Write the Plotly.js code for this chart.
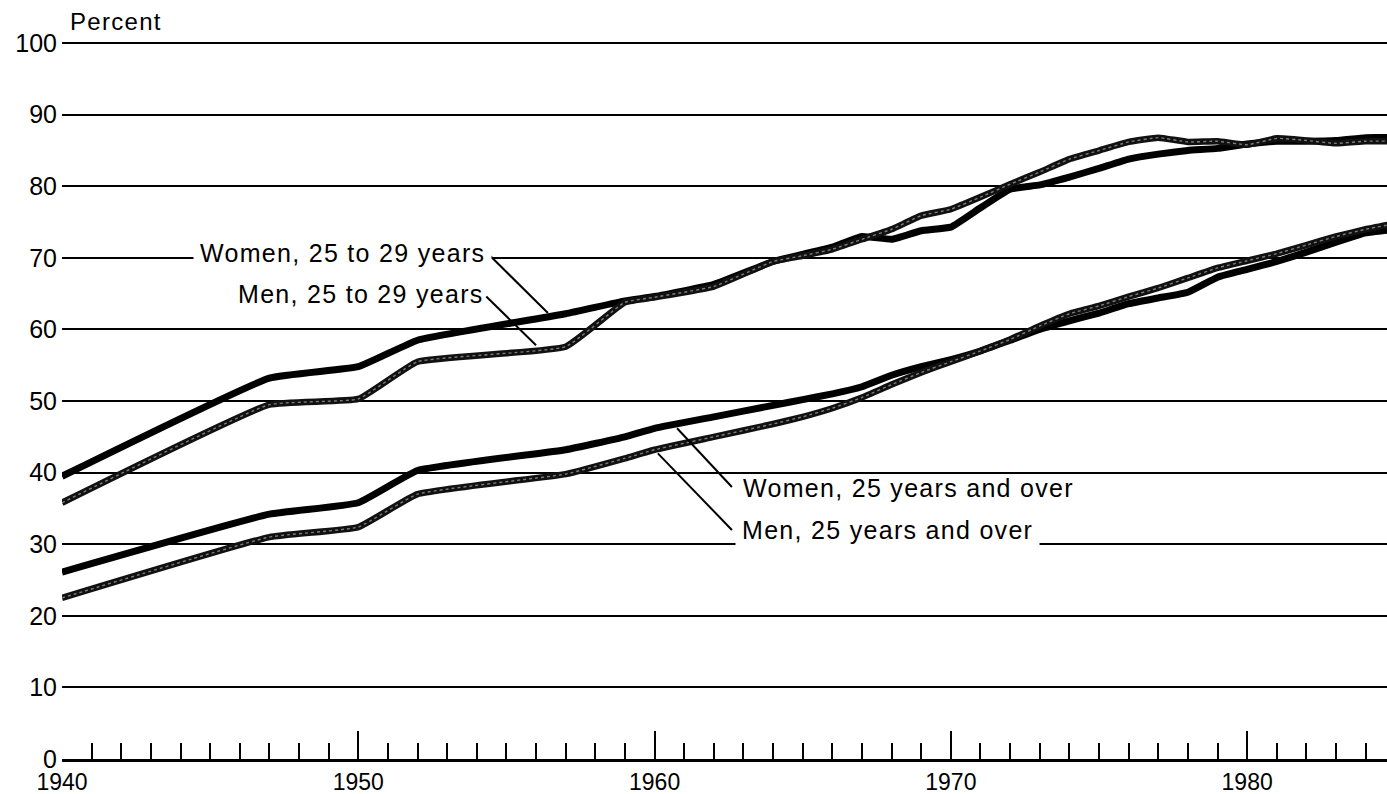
<!DOCTYPE html>
<html>
<head>
<meta charset="utf-8">
<script src="https://cdn.plot.ly/plotly-3.0.1.min.js"></script>
<style>
  body { margin: 0; background: #fff; }
  #chart { width: 1387px; height: 794px; }
  .annotation-text { letter-spacing: 1.3px; }
</style>
</head>
<body>
<div id="chart"></div>
<script>
// ---- Data (percent) ----
const womenYoungYears = [1940, 1947, 1950, 1952, 1957, 1959, 1960, 1962, 1964, 1965, 1966, 1967, 1968, 1969, 1970, 1971, 1972, 1973, 1974, 1975, 1976, 1977, 1978, 1979, 1980, 1981, 1982, 1983, 1984, 1985];
const womenYoung = [39.5, 53.2, 54.8, 58.5, 62.2, 64.0, 64.6, 66.3, 69.5, 70.5, 71.5, 73.0, 72.6, 73.8, 74.3, 77.0, 79.6, 80.2, 81.3, 82.5, 83.8, 84.5, 85.0, 85.3, 85.9, 86.3, 86.3, 86.4, 86.8, 86.8];

const menYoungYears = [1940, 1947, 1950, 1952, 1957, 1959, 1960, 1962, 1964, 1965, 1966, 1967, 1968, 1969, 1970, 1971, 1972, 1973, 1974, 1975, 1976, 1977, 1978, 1979, 1980, 1981, 1982, 1983, 1984, 1985];
const menYoung = [35.8, 49.5, 50.3, 55.5, 57.6, 63.8, 64.5, 66.0, 69.5, 70.3, 71.2, 72.6, 74.0, 75.9, 76.8, 78.5, 80.3, 82.0, 83.8, 85.0, 86.2, 86.8, 86.2, 86.3, 85.8, 86.7, 86.4, 86.0, 86.3, 86.3];

const womenAllYears = [1940, 1947, 1950, 1952, 1957, 1959, 1960, 1962, 1964, 1965, 1966, 1967, 1968, 1969, 1970, 1971, 1972, 1973, 1974, 1975, 1976, 1977, 1978, 1979, 1980, 1981, 1982, 1983, 1984, 1985];
const womenAll = [26.1, 34.2, 35.8, 40.3, 43.2, 45.0, 46.2, 47.8, 49.4, 50.2, 51.0, 52.0, 53.6, 54.8, 55.8, 57.0, 58.5, 60.0, 61.2, 62.3, 63.6, 64.4, 65.2, 67.3, 68.4, 69.5, 70.8, 72.2, 73.5, 74.0];

const menAllYears = [1940, 1947, 1950, 1952, 1957, 1959, 1960, 1962, 1964, 1965, 1966, 1967, 1968, 1969, 1970, 1971, 1972, 1973, 1974, 1975, 1976, 1977, 1978, 1979, 1980, 1981, 1982, 1983, 1984, 1985];
const menAll = [22.5, 31.0, 32.4, 37.0, 39.8, 42.0, 43.2, 45.0, 46.8, 47.8, 49.0, 50.5, 52.3, 54.0, 55.5, 57.0, 58.6, 60.5, 62.2, 63.3, 64.6, 65.8, 67.2, 68.6, 69.6, 70.6, 71.8, 73.0, 74.0, 74.8];

const seriesLabels = ["Women, 25 to 29 years", "Men, 25 to 29 years", "Women, 25 years and over", "Men, 25 years and over"];
const yTicks = [0, 10, 20, 30, 40, 50, 60, 70, 80, 90, 100];
const xTicks = [1940, 1950, 1960, 1970, 1980];

// ---- Traces ----
function solid(x, y, name) {
  return { x: x, y: y, name: name, type: "scatter", mode: "lines",
    line: { color: "#000", width: 7, shape: "spline", smoothing: 0.35 }, hoverinfo: "skip" };
}
function hatched(x, y, name) {
  return [
    { x: x, y: y, name: name, type: "scatter", mode: "lines",
      line: { color: "#111", width: 6.5, shape: "spline", smoothing: 0.35 }, hoverinfo: "skip" },
    { x: x, y: y, name: name + " texture", type: "scatter", mode: "lines",
      line: { color: "rgba(255,255,255,0.45)", width: 1.4, dash: "dot", shape: "spline", smoothing: 0.35 }, hoverinfo: "skip" }
  ];
}

const traces = [
  solid(womenYoungYears, womenYoung, seriesLabels[0]),
  ...hatched(menYoungYears, menYoung, seriesLabels[1]),
  solid(womenAllYears, womenAll, seriesLabels[2]),
  ...hatched(menAllYears, menAll, seriesLabels[3])
];

const labelFont = { family: "Liberation Sans, Arial, sans-serif", size: 25, color: "#000" };

const layout = {
  width: 1387, height: 794,
  margin: { l: 62, r: 0, t: 41, b: 35 },
  paper_bgcolor: "#fff", plot_bgcolor: "#fff",
  showlegend: false,
  font: { family: "Liberation Sans, Arial, sans-serif", size: 25, color: "#000" },
  xaxis: {
    range: [1940, 1984.72],
    tickvals: xTicks, ticktext: xTicks.map(String),
    ticks: "inside", ticklen: 28, tickwidth: 2, tickcolor: "#000",
    minor: { dtick: 1, tick0: 1940, ticks: "inside", ticklen: 16, tickwidth: 2, tickcolor: "#000", showgrid: false },
    showgrid: false, zeroline: false,
    showline: true, linecolor: "#000", linewidth: 3,
    ticklabelstandoff: 0,
    tickfont: { size: 23 }
  },
  yaxis: {
    range: [0, 100.3],
    tickvals: yTicks, ticktext: yTicks.map(String),
    ticks: "", showgrid: true, gridcolor: "#000", gridwidth: 2,
    zeroline: false, showline: false,
    ticklabelstandoff: 4,
    tickfont: { size: 25 }
  },
  annotations: [
    { xref: "paper", yref: "paper", x: 0, y: 1, xanchor: "left", yanchor: "bottom",
      xshift: 6, yshift: 4, text: "Percent", showarrow: false,
      font: { family: "Liberation Sans, Arial, sans-serif", size: 24, color: "#000" } },
    { x: 1954.5, y: 70.7, xanchor: "right", yanchor: "middle", text: seriesLabels[0],
      showarrow: false, font: labelFont, bgcolor: "#fff", borderpad: 6 },
    { x: 1954.3, y: 64.9, xanchor: "right", yanchor: "middle", text: seriesLabels[1],
      showarrow: false, font: labelFont },
    { x: 1962.9, y: 37.9, xanchor: "left", yanchor: "middle", text: seriesLabels[2],
      showarrow: false, font: labelFont },
    { x: 1962.72, y: 32.0, xanchor: "left", yanchor: "middle", text: seriesLabels[3],
      showarrow: false, font: labelFont, bgcolor: "#fff", borderpad: 6 }
  ],
  shapes: [
    { type: "line", xref: "x", yref: "y", x0: 1954.4, y0: 70.5, x1: 1956.4, y1: 62.3, line: { color: "#000", width: 2 } },
    { type: "line", xref: "x", yref: "y", x0: 1954.32, y0: 64.6, x1: 1956.0, y1: 57.8, line: { color: "#000", width: 2 } },
    { type: "line", xref: "x", yref: "y", x0: 1962.61, y0: 38.0, x1: 1960.76, y1: 46.2, line: { color: "#000", width: 2 } },
    { type: "line", xref: "x", yref: "y", x0: 1962.61, y0: 32.0, x1: 1960.11, y1: 42.7, line: { color: "#000", width: 2 } }
  ]
};

Plotly.newPlot("chart", traces, layout, { staticPlot: true, displayModeBar: false });
</script>
</body>
</html>
